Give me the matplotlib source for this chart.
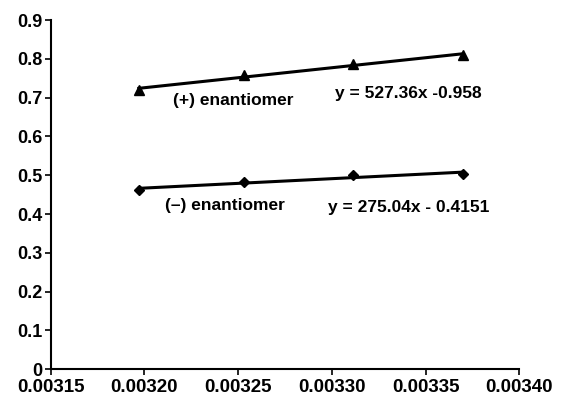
import numpy as np
import matplotlib.pyplot as plt

plt.rcParams['font.family'] = ['Liberation Sans', 'DejaVu Sans']
plt.rcParams['font.weight'] = 'bold'

# dados (1/T vs valor)
x_mais = [0.003197, 0.003253, 0.003311, 0.003370]
y_mais = [0.720, 0.758, 0.786, 0.810]
x_menos = [0.003197, 0.003253, 0.003311, 0.003370]
y_menos = [0.462, 0.483, 0.500, 0.503]

rotulos = ['(+) enantiomer', '(\u2013) enantiomer']
equacoes = ['y = 527.36x -0.958', 'y = 275.04x - 0.4151']

fig = plt.figure(figsize=(5.86, 3.96), dpi=100)
ax = fig.add_axes([0.0865, 0.068, 0.8, 0.881])

for xs, ys, m in [(x_mais, y_mais, '^'), (x_menos, y_menos, 'D')]:
    xs = np.array(xs)
    a, b = np.polyfit(xs, ys, 1)
    ax.plot(xs, a * xs + b, color='black', lw=2.2)
    ax.plot(xs, ys, m, color='black', ms=6.5 if m == '^' else 5)

ax.text(0.003215, 0.694, rotulos[0], fontsize=12.5, va='center', ha='left')
ax.text(0.0033015, 0.712, equacoes[0], fontsize=12.5, va='center', ha='left')
ax.text(0.003211, 0.423, rotulos[1], fontsize=12.5, va='center', ha='left')
ax.text(0.003298, 0.418, equacoes[1], fontsize=12.5, va='center', ha='left')

ax.set_xlim(0.00315, 0.00340)
ax.set_ylim(0, 0.9)
ax.set_xticks(np.arange(0.00315, 0.003401, 0.00005))
ax.set_xticklabels(['%.5f' % v for v in np.arange(0.00315, 0.003401, 0.00005)])
ax.set_yticks(np.arange(0, 0.91, 0.1))
ax.set_yticklabels(['0'] + ['%.1f' % v for v in np.arange(0.1, 0.91, 0.1)])
ax.spines['top'].set_visible(False)
ax.spines['right'].set_visible(False)
ax.spines['left'].set_linewidth(1.5)
ax.spines['bottom'].set_linewidth(1.5)
ax.tick_params(axis='x', labelsize=13.5, width=1.2, length=4, pad=3.5)
ax.tick_params(axis='y', labelsize=13, width=1.2, length=4, pad=2)
for lab in ax.get_xticklabels() + ax.get_yticklabels():
    lab.set_fontweight('bold')

fig.savefig('out.png', dpi=100)
